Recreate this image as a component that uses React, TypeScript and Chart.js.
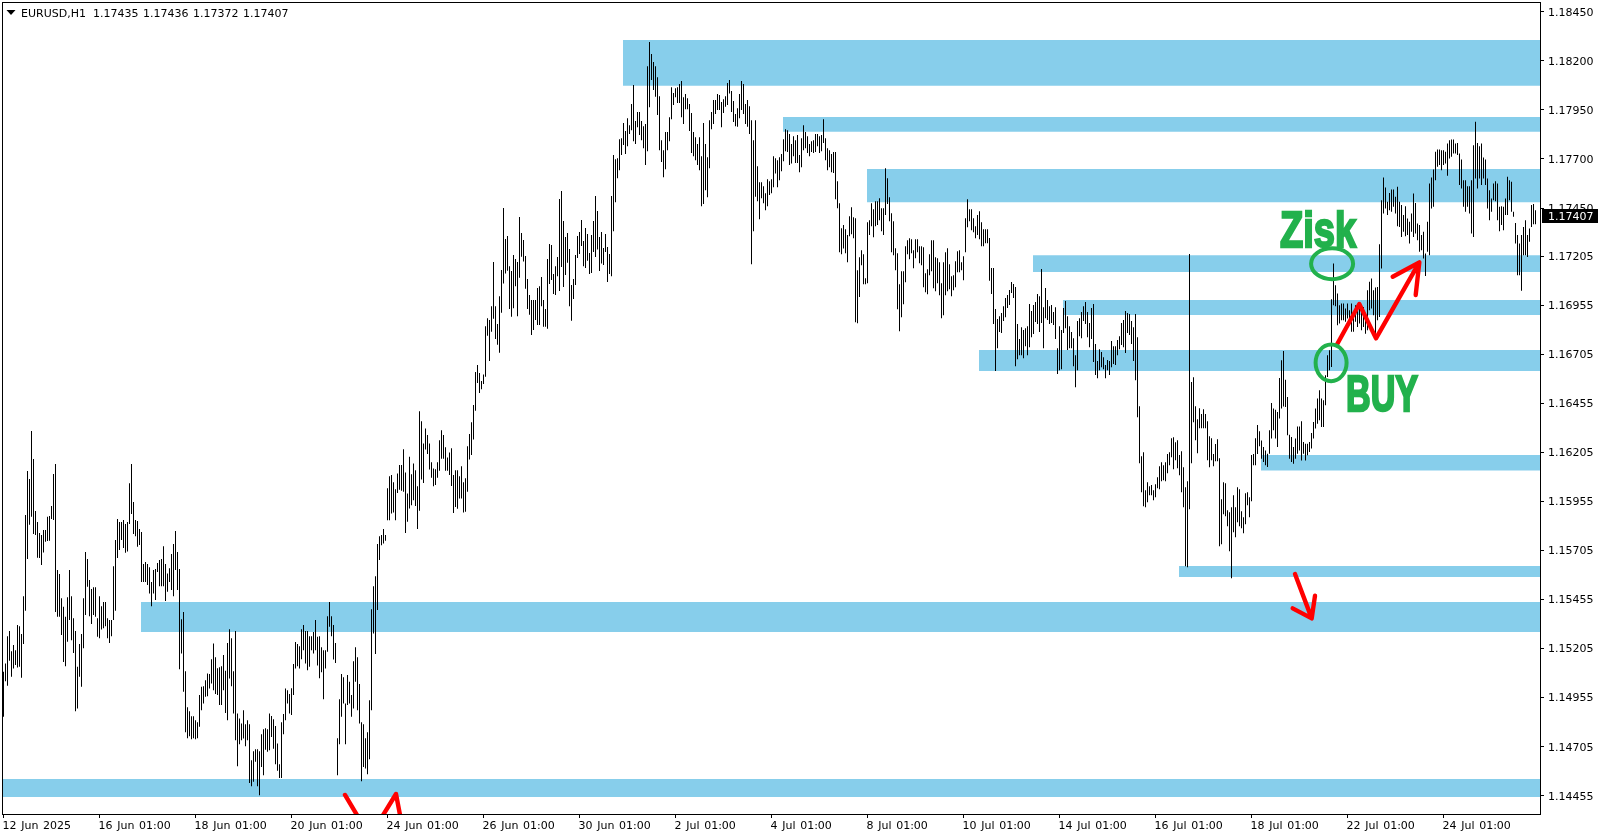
import { useEffect, useRef } from 'react';
import { Chart, registerables } from 'chart.js';
Chart.register(...registerables);

const symbolText = 'EURUSD,H1';
const headerPrices = ['1.17435', '1.17436', '1.17372', '1.17407'];
const lastClose = 1.17407;
const xTickLabels = ['12 Jun 2025','16 Jun 01:00','18 Jun 01:00','20 Jun 01:00','24 Jun 01:00','26 Jun 01:00','30 Jun 01:00','2 Jul 01:00','4 Jul 01:00','8 Jul 01:00','10 Jul 01:00','14 Jul 01:00','16 Jul 01:00','18 Jul 01:00','22 Jul 01:00','24 Jul 01:00'];
const barsPerXTick = 48;
const yTickValues = [1.18450,1.18200,1.17950,1.17700,1.17450,1.17205,1.16955,1.16705,1.16455,1.16205,1.15955,1.15705,1.15455,1.15205,1.14955,1.14705,1.14455];

const highsA = [1.15087,1.15129,1.15268,1.15294,1.15192,1.15223,1.15197,1.15325,1.15319,1.15279,
1.15472,1.15886,1.16110,1.16069,1.16314,1.16171,1.15906,1.15850,1.15794,1.15784,
1.15809,1.15809,1.15877,1.15880,1.15931,1.16095,1.16146,1.15605,1.15585,1.15462,
1.15418,1.15367,1.15467,1.15605,1.15472,1.15360,1.15294,1.15112,1.15228,1.15279,
1.15462,1.15697,1.15661,1.15554,1.15508,1.15518,1.15518,1.15360,1.15472,1.15421,
1.15442,1.15442,1.15360,1.15350,1.15350,1.15625,1.15758,1.15865,1.15850,1.15850,
1.15860,1.15840,1.15850,1.16047,1.16146,1.15952,1.15860,1.15855,1.15814,1.15799,
1.15636,1.15646,1.15636,1.15620,1.15544,1.15605,1.15610,1.15641,1.15656,1.15661,
1.15727,1.15636,1.15588,1.15614,1.15687,1.15738,1.15804,1.15697,1.15610,1.15355,
1.15391,1.15090,1.14906,1.14886,1.14860,1.14860,1.14840,1.14830,1.14968,1.15010,
1.15013,1.15044,1.15078,1.15075,1.15151,1.15231,1.15161,1.15105,1.15110,1.15115,
1.15172,1.15092,1.15233,1.15304,1.15258,1.15090,1.15294,1.14874,1.14849,1.14823,
1.14891,1.14820,1.14840,1.14820,1.14636,1.14682,1.14692,1.14692,1.14682,1.14769,
1.14794,1.14799,1.14794,1.14874,1.14862,1.14845,1.14811,1.14721,1.14616,1.14830,
1.14871,1.15002,1.14993,1.14973,1.15003,1.15126,1.15238,1.15228,1.15217,1.15304,
1.15325,1.15294,1.15294,1.15268,1.15268,1.15289,1.15350,1.15265,1.15268,1.15212,
1.15197,1.15197,1.15370,1.15442,1.15370,1.15325,1.15233,1.14748,1.14947,1.15075,
1.15059,1.14925,1.15070,1.15036,1.14968,1.15141,1.15212,1.15161,1.15024,1.14830,
1.14820,1.14748,1.14779,1.14942,1.15406,1.15523,1.15574,1.15738,1.15778,1.15784,
1.15814,1.15784];
const lowsA = [1.14857,1.15039,1.15015,1.15143,1.15061,1.15104,1.15121,1.15109,1.15112,1.15056,
1.15228,1.15398,1.15661,1.15836,1.15877,1.15789,1.15784,1.15668,1.15666,1.15631,
1.15695,1.15750,1.15753,1.15755,1.15865,1.15860,1.15391,1.15367,1.15367,1.15274,
1.15136,1.15115,1.15240,1.15350,1.15248,1.15182,1.14886,1.14900,1.15061,1.15010,
1.15207,1.15376,1.15520,1.15370,1.15330,1.15376,1.15367,1.15265,1.15258,1.15302,
1.15309,1.15319,1.15258,1.15234,1.15268,1.15350,1.15398,1.15666,1.15707,1.15758,
1.15717,1.15693,1.15700,1.15840,1.15891,1.15789,1.15778,1.15724,1.15733,1.15544,
1.15544,1.15544,1.15529,1.15486,1.15421,1.15486,1.15452,1.15595,1.15523,1.15523,
1.15523,1.15447,1.15495,1.15544,1.15503,1.15472,1.15605,1.15503,1.15100,1.15180,
1.14985,1.14779,1.14748,1.14758,1.14743,1.14748,1.14743,1.14748,1.14806,1.14891,
1.14925,1.14959,1.14962,1.15002,1.15027,1.14993,1.14973,1.14968,1.14917,1.14917,
1.14993,1.14877,1.14840,1.15053,1.15013,1.14874,1.14738,1.14605,1.14718,1.14738,
1.14747,1.14707,1.14738,1.14520,1.14503,1.14526,1.14628,1.14503,1.14458,1.14602,
1.14560,1.14690,1.14679,1.14687,1.14755,1.14694,1.14616,1.14582,1.14546,1.14546,
1.14769,1.14840,1.14925,1.14874,1.14866,1.14968,1.15104,1.15115,1.15104,1.15151,
1.15197,1.15129,1.15095,1.15112,1.15197,1.15180,1.15197,1.15119,1.15054,1.15085,
1.14947,1.15104,1.15189,1.15316,1.15268,1.15149,1.15131,1.14560,1.14718,1.14857,
1.14925,1.14718,1.14917,1.14925,1.14857,1.14900,1.15036,1.14891,1.14823,1.14529,
1.14602,1.14594,1.14565,1.14641,1.14891,1.15282,1.15177,1.15401,1.15656,1.15731,
1.15741,1.15755];

const highsB = [1.16022,1.16083,1.16089,1.16053,1.16017,1.16097,1.16140,1.16140,1.16221,1.16102,1.15995,1.16182,1.16094,1.16148,1.16114,1.16032,1.16415,1.16364,1.16250,1.16327,
1.16293,1.16250,1.16155,1.16123,1.16119,1.16155,1.16267,1.16318,1.16293,1.16231,1.16179,1.16204,1.16226,1.16089,1.16114,1.16114,1.16083,1.16134,1.16053,1.16073,
1.16236,1.16298,1.16359,1.16446,1.16614,1.16650,1.16609,1.16568,1.16602,1.16848,1.16889,1.16879,1.16950,1.17175,1.16950,1.16859,1.17001,1.17134,1.17450,1.17292,
1.17307,1.17154,1.17129,1.17211,1.17190,1.17175,1.17404,1.17323,1.17287,1.17205,1.17088,1.17007,1.16981,1.16981,1.16981,1.17042,1.17052,1.17098,1.16981,1.16935,
1.17190,1.17267,1.17262,1.17114,1.17154,1.17200,1.17496,1.17537,1.17384,1.17302,1.17323,1.17241,1.17058,1.17088,1.17211,1.17307,1.17328,1.17389,1.17282,1.17348,
1.17318,1.17221,1.17313,1.17384,1.17511,1.17435,1.17302,1.17328,1.17246,1.17318,1.17251,1.17216,1.17511];
const lowsB = [1.15859,1.15859,1.15893,1.15898,1.15859,1.15998,1.16015,1.16009,1.16004,1.15794,1.15851,1.15919,1.15936,1.15961,1.15932,1.15815,1.15907,1.16066,1.16049,1.16219,
1.16196,1.16117,1.16075,1.16032,1.16039,1.16075,1.16111,1.16172,1.16172,1.16111,1.16111,1.16090,1.16034,1.15896,1.15927,1.15917,1.15970,1.15970,1.15898,1.15902,
1.16004,1.16168,1.16191,1.16270,1.16417,1.16559,1.16508,1.16527,1.16553,1.16590,1.16799,1.16670,1.16820,1.16886,1.16782,1.16753,1.16712,1.16916,1.17066,1.17117,
1.17131,1.16935,1.16896,1.16939,1.17052,1.16899,1.17095,1.17202,1.17177,1.17039,1.16935,1.16906,1.16803,1.16828,1.16879,1.16854,1.16854,1.16950,1.16845,1.16845,
1.16835,1.17063,1.17083,1.17012,1.17007,1.17103,1.17027,1.17149,1.17047,1.17109,1.17171,1.16950,1.16876,1.16986,1.17058,1.17195,1.17216,1.17256,1.17154,1.17144,
1.17182,1.17114,1.17119,1.17226,1.17200,1.17239,1.17129,1.17168,1.17160,1.17226,1.17073,1.17114,1.17103];

const highsC = [1.17720,1.17699,1.17704,1.17801,1.17806,1.17883,1.17842,1.17908,1.17872,1.17980,
1.18077,1.17893,1.17939,1.17939,1.17893,1.17867,1.17878,1.18173,1.18296,1.18235,
1.18194,1.18173,1.18117,1.18020,1.17796,1.17745,1.17837,1.17837,1.17913,1.18066,
1.18036,1.18061,1.18066,1.18082,1.18097,1.18015,1.18031,1.18010,1.17980,1.17934,
1.17837,1.17811,1.17776,1.17811,1.17714,1.17883,1.17776,1.17709,1.17898,1.17939,
1.18000,1.18000,1.18031,1.18026,1.17990,1.18005,1.18020,1.18087,1.18102,1.18046,
1.17995,1.17929,1.17958,1.18031,1.18097,1.18082,1.17980,1.18000,1.17969,1.17898,
1.17796,1.17898,1.17663,1.17582,1.17582,1.17561,1.17526,1.17597,1.17587,1.17597,
1.17714,1.17704,1.17694,1.17709,1.17725,1.17801,1.17852,1.17847,1.17827,1.17776,
1.17816,1.17796,1.17822,1.17720,1.17806,1.17872,1.17837,1.17816,1.17776,1.17791,
1.17796,1.17827,1.17827,1.17816,1.17822,1.17903,1.17806,1.17755,1.17745,1.17725,
1.17735,1.17735,1.17587,1.17475,1.17347,1.17363,1.17342,1.17312,1.17408,1.17454,
1.17403,1.17398,1.17133,1.17199,1.17235,1.17215,1.17092,1.17378,1.17388,1.17475,
1.17444,1.17485,1.17485,1.17500,1.17449,1.17449,1.17653,1.17602,1.17505,1.17424,
1.17383,1.17245,1.17220,1.17062,1.17128,1.17128,1.17255,1.17286,1.17296,1.17291,
1.17235,1.17291,1.17291,1.17255,1.17255,1.17250,1.17118,1.17138,1.17215,1.17286,
1.17286,1.17199,1.17194,1.17174,1.17067,1.17174,1.17225,1.17245,1.17164,1.17102,
1.17108,1.17179,1.17230,1.17235,1.17174,1.17204,1.17398,1.17495,1.17444,1.17444,
1.17398,1.17357,1.17414,1.17434,1.17378,1.17342,1.17342,1.17342];
const lowsC = [1.17332,1.17480,1.17602,1.17643,1.17720,1.17771,1.17725,1.17765,1.17827,1.17847,
1.17791,1.17776,1.17862,1.17822,1.17796,1.17755,1.17669,1.17740,1.17964,1.18102,
1.18051,1.18017,1.17924,1.17745,1.17684,1.17607,1.17648,1.17745,1.17791,1.17903,
1.17975,1.18015,1.17985,1.17985,1.17913,1.17878,1.17954,1.17954,1.17842,1.17730,
1.17714,1.17694,1.17669,1.17643,1.17459,1.17470,1.17541,1.17505,1.17653,1.17852,
1.17878,1.17929,1.17949,1.17949,1.17862,1.17934,1.17966,1.17975,1.18034,1.17939,
1.17888,1.17867,1.17864,1.17908,1.17949,1.17929,1.17878,1.17864,1.17827,1.17164,
1.17332,1.17507,1.17485,1.17393,1.17500,1.17475,1.17439,1.17459,1.17516,1.17526,
1.17556,1.17626,1.17556,1.17592,1.17638,1.17689,1.17740,1.17735,1.17669,1.17677,
1.17714,1.17679,1.17679,1.17633,1.17658,1.17745,1.17755,1.17730,1.17714,1.17735,
1.17730,1.17735,1.17765,1.17730,1.17740,1.17781,1.17694,1.17643,1.17658,1.17633,
1.17628,1.17495,1.17449,1.17225,1.17215,1.17244,1.17220,1.17174,1.17306,1.17317,
1.17296,1.16868,1.16863,1.16997,1.17159,1.17062,1.17062,1.17067,1.17312,1.17357,
1.17301,1.17357,1.17363,1.17388,1.17332,1.17312,1.17414,1.17470,1.17383,1.17225,
1.17210,1.17133,1.16934,1.16822,1.16893,1.16960,1.17072,1.17215,1.17189,1.17220,
1.17143,1.17194,1.17225,1.17169,1.17159,1.17046,1.17021,1.17011,1.17108,1.17128,
1.17041,1.17026,1.17067,1.17006,1.16888,1.16904,1.17006,1.17026,1.17036,1.17000,
1.17031,1.17046,1.17123,1.17123,1.17133,1.17082,1.17225,1.17352,1.17383,1.17337,
1.17327,1.17296,1.17312,1.17291,1.17255,1.17255,1.17271,1.17271];

const highsD = [1.17297,1.17144,1.17144,1.16935,1.16884,1.16899,1.16915,1.16950,1.16991,1.17007,
1.17032,1.17073,1.17063,1.17047,1.16859,1.16782,1.16843,1.16828,1.16838,1.16848,
1.16961,1.16925,1.16956,1.16971,1.17012,1.17001,1.17139,1.16945,1.17042,1.16981,
1.16950,1.16956,1.16920,1.16945,1.16736,1.16848,1.16828,1.16940,1.16976,1.16899,
1.16848,1.16818,1.16787,1.16700,1.16874,1.16889,1.16920,1.16950,1.16971,1.16920,
1.16864,1.16940,1.16961,1.16757,1.16670,1.16731,1.16716,1.16690,1.16650,1.16675,
1.16670,1.16772,1.16746,1.16746,1.16777,1.16797,1.16864,1.16879,1.16925,1.16915,
1.16910,1.16874,1.16843,1.16910,1.16792,1.16440,1.16185,1.16206,1.16012,1.16053,
1.16032,1.16038,1.16012,1.16043,1.16078,1.16134,1.16155,1.16139,1.16155,1.16196,
1.16206,1.16277,1.16282,1.16257,1.16267,1.16191,1.16211,1.16129,1.16027,1.16058,
1.17216,1.16563,1.16588,1.16440,1.16374,1.16430,1.16400,1.16425,1.16400,1.16364,
1.16287,1.16277,1.16196,1.16247,1.16272,1.16175,1.15966,1.16053,1.16048,1.15910,
1.15900,1.15925,1.15987,1.15925,1.16027,1.16017,1.15905,1.15874,1.15997,1.16002,
1.15976,1.16191,1.16196,1.16277,1.16344,1.16313];
const lowsD = [1.17080,1.17012,1.16859,1.16619,1.16736,1.16818,1.16813,1.16874,1.16894,1.16940,
1.16956,1.17017,1.16991,1.16644,1.16680,1.16700,1.16700,1.16685,1.16746,1.16700,
1.16741,1.16792,1.16808,1.16869,1.16859,1.16818,1.16864,1.16736,1.16889,1.16879,
1.16859,1.16864,1.16854,1.16782,1.16604,1.16624,1.16629,1.16813,1.16838,1.16726,
1.16736,1.16736,1.16644,1.16537,1.16624,1.16797,1.16787,1.16874,1.16859,1.16792,
1.16741,1.16782,1.16665,1.16599,1.16583,1.16624,1.16639,1.16629,1.16583,1.16624,
1.16599,1.16639,1.16655,1.16650,1.16700,1.16731,1.16752,1.16741,1.16711,1.16813,
1.16803,1.16757,1.16670,1.16573,1.16384,1.16150,1.16002,1.15930,1.15925,1.15951,
1.15987,1.15987,1.15961,1.15976,1.16022,1.16017,1.16058,1.16063,1.16058,1.16099,
1.16139,1.16180,1.16119,1.16165,1.16124,1.16088,1.16002,1.15925,1.15624,1.15619,
1.15915,1.16150,1.16359,1.16267,1.16201,1.16328,1.16328,1.16328,1.16328,1.16165,
1.16129,1.16165,1.16134,1.16160,1.16160,1.15726,1.15737,1.15890,1.15879,1.15828,
1.15701,1.15563,1.15798,1.15772,1.15849,1.15828,1.15818,1.15793,1.15839,1.15936,
1.15874,1.15956,1.16139,1.16139,1.16196,1.16236];

const highsE = [1.16266,1.16232,1.16215,1.16198,1.16317,1.16456,1.16428,1.16422,1.16411,1.16584,
1.16674,1.16722,1.16575,1.16487,1.16295,1.16283,1.16232,1.16275,1.16337,1.16337,
1.16363,1.16258,1.16249,1.16249,1.16258,1.16303,1.16360,1.16428,1.16479,1.16521,
1.16479,1.16470,1.16598,1.16700,1.16725,1.16985,1.17167,1.17057,1.17014,1.16955,
1.16963,1.16963,1.16938,1.16963,1.16929,1.16963,1.16912,1.16955,1.16946,1.16955,
1.16929,1.16946,1.16912,1.17031,1.17074,1.17091,1.17031,1.17045,1.17048,1.17266,
1.17490,1.17606,1.17555,1.17482,1.17527,1.17544,1.17544,1.17507,1.17558,1.17482,
1.17465,1.17414,1.17459,1.17397,1.17380,1.17422,1.17524,1.17476,1.17371,1.17363,
1.17312,1.17329,1.17218,1.17380,1.17575,1.17606,1.17646,1.17737,1.17748,1.17748,
1.17745,1.17745,1.17737,1.17779,1.17796,1.17799,1.17799,1.17779,1.17782,1.17728,
1.17697,1.17592,1.17592,1.17561,1.17561,1.17592,1.17770,1.17890,1.17782,1.17765,
1.17779,1.17708,1.17697,1.17601,1.17541,1.17499,1.17575,1.17587,1.17575,1.17456,
1.17459,1.17456,1.17499,1.17609,1.17592,1.17584,1.17431,1.17374,1.17312,1.17269,
1.17312,1.17354,1.17388,1.17312,1.17346,1.17465,1.17470,1.17439];
const lowsE = [1.16173,1.16156,1.16139,1.16130,1.16198,1.16275,1.16317,1.16275,1.16232,1.16377,
1.16428,1.16439,1.16436,1.16292,1.16173,1.16156,1.16147,1.16173,1.16198,1.16215,
1.16164,1.16198,1.16164,1.16190,1.16207,1.16224,1.16275,1.16326,1.16351,1.16368,
1.16334,1.16334,1.16445,1.16589,1.16623,1.16640,1.16955,1.16949,1.16853,1.16861,
1.16878,1.16878,1.16870,1.16887,1.16861,1.16819,1.16819,1.16870,1.16844,1.16861,
1.16827,1.16844,1.16810,1.16827,1.16929,1.16938,1.16904,1.16785,1.16878,1.16895,
1.17142,1.17422,1.17448,1.17414,1.17439,1.17431,1.17456,1.17422,1.17357,1.17354,
1.17303,1.17329,1.17306,1.17312,1.17269,1.17329,1.17303,1.17320,1.17286,1.17227,
1.17235,1.17193,1.17104,1.17227,1.17210,1.17448,1.17456,1.17592,1.17660,1.17669,
1.17643,1.17669,1.17677,1.17614,1.17703,1.17711,1.17728,1.17728,1.17720,1.17567,
1.17550,1.17456,1.17431,1.17456,1.17422,1.17320,1.17303,1.17601,1.17550,1.17601,
1.17567,1.17601,1.17567,1.17448,1.17388,1.17431,1.17490,1.17485,1.17388,1.17332,
1.17363,1.17337,1.17414,1.17414,1.17490,1.17431,1.17405,1.17269,1.17108,1.17108,
1.17028,1.17210,1.17210,1.17201,1.17278,1.17354,1.17368,1.17368];

const highs = [...highsA, ...highsB, ...highsC, ...highsD, ...highsE];
const lows = [...lowsA, ...lowsB, ...lowsC, ...lowsD, ...lowsE];

const zoneStarts = [309.75, 389.75, 431.75, 514.75, 529.75, 487.75, 628.75, 587.75, 68.75, -0.25];
const zoneTops = [1.18306, 1.17914, 1.17649, 1.17210, 1.16981, 1.16726, 1.16191, 1.15626, 1.15442, 1.14540];
const zoneBottoms = [1.18073, 1.17839, 1.17480, 1.17124, 1.16905, 1.16619, 1.16112, 1.15570, 1.15289, 1.14448];

const arrowTrade = [[666.6,1.16752],[677.9,1.16961],[686.25,1.16786],[707.9,1.17173],[694.6,1.17100],[707.9,1.17173],[706.1,1.17007]];
const arrowDown = [[645.75,1.15585],[654.1,1.15359],[644.6,1.15410],[654.1,1.15359],[655.75,1.15474]];
const arrowClippedLeft = [[170.75,1.14459],[178.25,1.14331]];
const arrowClippedRight = [[188.25,1.14331],[196.25,1.14464],[198.75,1.14331]];

const ellipseCenters = [[664.3,1.17166],[663.8,1.16661]];
const ellipseRadii = [[21,15.5],[15.5,18.3]];
const noteTexts = ['Zisk', 'BUY'];
const noteAnchors = [[638.25,1.17251],[671.25,1.16417]];
const noteWidths = [76, 72];

const X_MIN = -0.25;
const X_MAX = 768.25;
const Y_MIN = 1.14362;
const Y_MAX = 1.18500;
const FONT = '11px "DejaVu Sans"';
const GREEN = '#22B14C';

const toPoints = (a: number[][]) => a.map(([x, y]) => ({ x, y }));
const arrowDataset = (a: number[][]) => ({
  type: 'line', data: toPoints(a), borderColor: '#FF0000', borderWidth: 4.4, pointRadius: 0,
  tension: 0, fill: false, clip: 0, order: 1, borderCapStyle: 'round', borderJoinStyle: 'round',
});

const overlay = {
  id: 'overlay',
  beforeDraw(c: any) {
    c.ctx.save();
    c.ctx.fillStyle = '#fff';
    c.ctx.fillRect(0, 0, c.width, c.height);
    c.ctx.restore();
    c.ctx.wordSpacing = '1.2px';
  },
  afterDraw(c: any) {
    const { ctx, chartArea: a, scales: { x, y } } = c;
    ctx.save();
    // frame
    ctx.fillStyle = '#000';
    ctx.fillRect(2, 2, a.right - 2, 1);
    ctx.fillRect(2, 2, 1, a.bottom - 2);
    ctx.fillRect(a.right, 2, 1, a.bottom - 1);
    ctx.fillRect(2, a.bottom, a.right - 1, 1);
    // ellipses
    ctx.strokeStyle = GREEN;
    ctx.lineWidth = 4;
    ellipseCenters.forEach(([cx, cy], i) => {
      ctx.beginPath();
      ctx.ellipse(x.getPixelForValue(cx), y.getPixelForValue(cy), ellipseRadii[i][0], ellipseRadii[i][1], 0, 0, Math.PI * 2);
      ctx.stroke();
    });
    // notes
    ctx.font = 'bold 50px "Liberation Sans Narrow", "Liberation Sans"';
    ctx.textAlign = 'left';
    ctx.textBaseline = 'alphabetic';
    ctx.fillStyle = GREEN;
    ctx.strokeStyle = GREEN;
    ctx.lineWidth = 2.4;
    noteTexts.forEach((t, i) => {
      const w = ctx.measureText(t).width;
      ctx.save();
      ctx.translate(x.getPixelForValue(noteAnchors[i][0]), y.getPixelForValue(noteAnchors[i][1]));
      ctx.scale(noteWidths[i] / w, 1);
      ctx.fillText(t, 0, 0);
      ctx.strokeText(t, 0, 0);
      ctx.restore();
    });
    // header
    ctx.fillStyle = '#000';
    ctx.beginPath();
    ctx.moveTo(6.5, 10);
    ctx.lineTo(15.5, 10);
    ctx.lineTo(11, 15);
    ctx.closePath();
    ctx.fill();
    ctx.font = FONT;
    ctx.textBaseline = 'alphabetic';
    ctx.fillText(symbolText, 21, 16.5);
    headerPrices.forEach((p, i) => ctx.fillText(p, 93 + i * 50, 16.5));
    // current price tag
    const py = y.getPixelForValue(lastClose);
    ctx.fillStyle = '#000';
    ctx.fillRect(a.right + 2, Math.round(py) - 7, 56, 14);
    ctx.fillStyle = '#fff';
    ctx.textBaseline = 'middle';
    ctx.fillText(lastClose.toFixed(5), 1548, Math.round(py) + 1);
    ctx.restore();
  },
};

export default function App() {
  const ref = useRef<HTMLCanvasElement>(null);
  useEffect(() => {
    const zeroPad = (s: any) => { s.paddingTop = 0; s.paddingBottom = 0; s.paddingLeft = 0; s.paddingRight = 0; };
    const chart = new Chart(ref.current as any, {
      type: 'bar',
      data: {
        datasets: [
          ...zoneStarts.map((s, i) => ({
            type: 'line', data: [{ x: s, y: zoneTops[i] }, { x: X_MAX, y: zoneTops[i] }],
            fill: { target: { value: zoneBottoms[i] } }, backgroundColor: '#87CEEB',
            borderWidth: 0, pointRadius: 0, order: 10,
          })),
          {
            type: 'bar', data: highs.map((h, i) => ({ x: i, y: [lows[i], h] })),
            backgroundColor: '#000', barThickness: 1, inflateAmount: 0, borderWidth: 0, borderSkipped: false, order: 5, grouped: false,
          },
          arrowDataset(arrowTrade),
          arrowDataset(arrowDown),
          arrowDataset(arrowClippedLeft),
          arrowDataset(arrowClippedRight),
        ] as any,
      },
      options: {
        responsive: false,
        animation: false,
        events: [],
        layout: { padding: { left: 3, top: 2, right: 0, bottom: 0 } },
        plugins: { legend: { display: false }, tooltip: { enabled: false } },
        scales: {
          x: {
            type: 'linear', min: X_MIN, max: X_MAX, offset: false,
            border: { display: false },
            grid: { offset: false, drawOnChartArea: false, drawTicks: true, tickLength: 4, tickColor: '#000' },
            ticks: {
              autoSkip: false, maxRotation: 0, minRotation: 0, align: 'start', padding: 2, labelOffset: -1, color: '#000',
              font: { family: 'DejaVu Sans', size: 11 },
              callback: (v: any) => xTickLabels[Math.round(v / barsPerXTick)],
            },
            afterBuildTicks: (s: any) => { s.ticks = xTickLabels.map((_, i) => ({ value: i * barsPerXTick })); },
            afterFit: (s: any) => { s.height = 24; zeroPad(s); },
          },
          y: {
            type: 'linear', position: 'right', min: Y_MIN, max: Y_MAX,
            border: { display: false },
            grid: { drawOnChartArea: false, drawTicks: true, tickLength: 4, tickColor: '#000' },
            ticks: {
              autoSkip: false, padding: 4, labelOffset: 1, color: '#000',
              font: { family: 'DejaVu Sans', size: 11 },
              callback: (v: any) => Number(v).toFixed(5),
            },
            afterBuildTicks: (s: any) => { s.ticks = yTickValues.map((value) => ({ value })); },
            afterFit: (s: any) => { s.width = 64; zeroPad(s); },
          },
        },
      } as any,
      plugins: [overlay],
    });
    return () => chart.destroy();
  }, []);
  return (
    <canvas
      ref={ref}
      width={1604}
      height={838}
      style={{ position: 'absolute', left: 0, top: 0, display: 'block' }}
    />
  );
}
